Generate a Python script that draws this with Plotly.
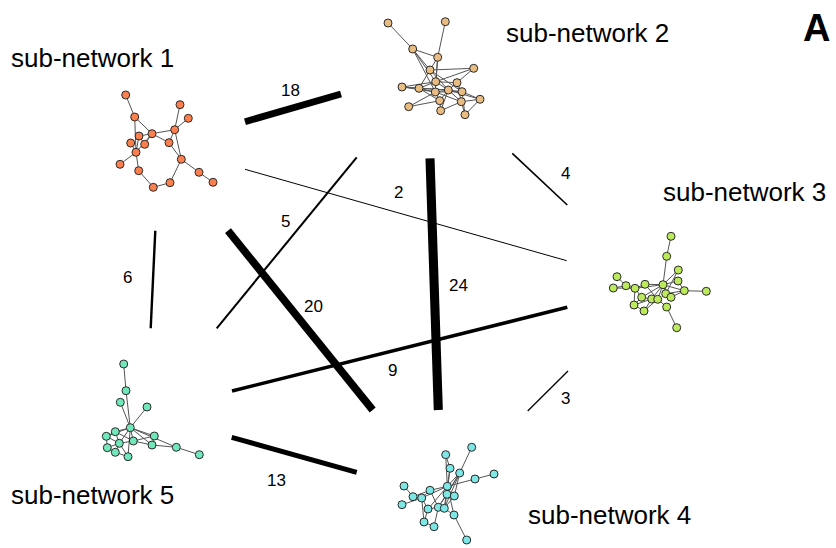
import plotly.graph_objects as go

W, H = 836, 548

# ---- sub-network node layouts (canvas coordinates) ----
sub1_x = [125.7, 180.0, 188.3, 134.7, 152.0, 174.7, 139.0, 130.7, 144.7, 169.0, 136.0, 181.3, 120.0, 138.7, 199.0, 213.0, 170.0, 153.3]
sub1_y = [95.0, 104.7, 118.3, 117.0, 133.7, 129.7, 136.0, 143.0, 144.3, 142.7, 152.3, 159.3, 164.3, 170.7, 172.3, 182.3, 182.7, 187.3]
sub1_edges = [(0, 3), (3, 4), (3, 10), (4, 5), (5, 1), (5, 2), (5, 9), (5, 11), (4, 9), (9, 11),
              (4, 6), (4, 8), (4, 10), (6, 10), (7, 10), (10, 12), (10, 13), (13, 17), (17, 16),
              (16, 11), (11, 14), (14, 15), (8, 6)]

sub2_x = [388.0, 445.3, 412.7, 437.7, 430.0, 473.7, 435.7, 457.0, 402.0, 419.0, 435.3, 448.3, 462.0, 439.7, 461.3, 480.0, 408.7, 440.7, 465.0]
sub2_y = [23.0, 21.7, 49.0, 57.3, 70.0, 68.3, 81.7, 82.7, 87.0, 88.3, 92.0, 90.0, 91.7, 100.7, 101.7, 99.3, 106.7, 110.7, 114.7]
sub2_edges = [(0, 2), (1, 3), (2, 3), (2, 4), (2, 6), (2, 10), (3, 4), (3, 10), (3, 6), (4, 5),
              (4, 9), (4, 11), (5, 7), (5, 6), (6, 7), (6, 8), (6, 9), (6, 10), (6, 11), (7, 12),
              (7, 14), (7, 11), (8, 9), (8, 10), (8, 11), (9, 10), (9, 11), (9, 13), (10, 11),
              (10, 12), (10, 13), (10, 14), (11, 12), (11, 13), (11, 14), (11, 15), (12, 15),
              (12, 18), (13, 17), (13, 16), (14, 15), (14, 18), (15, 18), (16, 10), (17, 14),
              (17, 11), (4, 12)]

sub3_x = [671.0, 666.7, 678.3, 617.0, 678.0, 626.0, 645.0, 663.0, 613.3, 635.0, 684.3, 706.3, 665.7, 641.7, 651.7, 657.7, 671.0, 634.0, 644.0, 666.7, 676.7]
sub3_y = [236.3, 256.3, 270.0, 276.7, 281.0, 285.7, 284.3, 284.7, 288.0, 288.3, 290.7, 291.3, 293.7, 297.3, 299.0, 299.3, 297.3, 305.0, 311.0, 307.0, 327.7]
sub3_edges = [(0, 1), (1, 7), (2, 7), (4, 7), (7, 10), (10, 11), (4, 10), (2, 12), (3, 5), (5, 9),
              (8, 5), (8, 9), (9, 6), (6, 7), (9, 13), (9, 17), (13, 14), (14, 15), (15, 7),
              (13, 7), (12, 16), (7, 12), (7, 16), (16, 10), (7, 14), (17, 18), (17, 14),
              (18, 14), (18, 15), (15, 19), (19, 20), (12, 10), (9, 7), (13, 17), (6, 15)]

sub4_x = [471.7, 445.7, 450.0, 459.7, 494.0, 475.0, 404.0, 447.3, 430.0, 413.0, 421.7, 447.0, 454.3, 402.0, 428.0, 438.3, 444.3, 454.0, 424.0, 434.0, 466.7]
sub4_y = [447.3, 454.7, 468.3, 473.0, 474.0, 479.0, 486.0, 486.3, 490.3, 496.7, 498.0, 494.3, 496.0, 504.7, 509.0, 507.3, 508.3, 515.0, 522.0, 526.7, 540.0]
sub4_edges = [(0, 3), (1, 2), (1, 7), (2, 7), (2, 11), (3, 7), (3, 11), (3, 12), (3, 15), (5, 7),
              (4, 5), (6, 9), (9, 10), (10, 7), (8, 7), (8, 10), (10, 14), (13, 10), (9, 8),
              (7, 11), (11, 12), (11, 16), (11, 15), (7, 16), (7, 17), (12, 16), (14, 15),
              (15, 16), (14, 18), (18, 19), (19, 15), (16, 17), (17, 20), (8, 15), (7, 14),
              (10, 18), (3, 16)]

sub5_x = [123.7, 126.0, 120.3, 147.0, 130.3, 115.3, 106.3, 154.3, 133.3, 119.3, 152.0, 107.3, 176.3, 115.3, 128.0, 199.3]
sub5_y = [364.0, 390.7, 402.3, 407.0, 427.7, 431.7, 436.3, 436.0, 441.0, 443.3, 445.0, 447.7, 447.3, 452.3, 456.7, 454.7]
sub5_edges = [(0, 1), (1, 4), (2, 4), (3, 4), (4, 5), (4, 6), (4, 7), (4, 8), (4, 9), (4, 10),
              (4, 12), (4, 14), (5, 6), (5, 9), (6, 11), (6, 9), (8, 9), (8, 7), (8, 10), (9, 11),
              (9, 13), (11, 13), (13, 14), (9, 14), (7, 10), (10, 12), (12, 15), (5, 8)]

sub_colors = ["#FA8050", "#E8BC82", "#BDEA5C", "#7FE6E6", "#72E8BA"]

# ---- links between sub-networks: edge counts and segment ends ----
link_counts = [18, 2, 4, 5, 24, 20, 6, 9, 3, 13]
link_x0 = [245.0, 245.0, 512.3, 216.7, 430.0, 228.0, 155.3, 232.0, 527.7, 231.7]
link_y0 = [121.7, 169.3, 153.3, 328.3, 158.3, 230.7, 230.7, 391.0, 411.0, 437.3]
link_x1 = [341.0, 566.7, 567.3, 356.7, 438.3, 372.7, 150.7, 567.3, 568.0, 356.7]
link_y1 = [94.0, 260.7, 205.0, 157.3, 410.0, 410.0, 328.3, 307.3, 371.0, 472.3]
label_x = [290.0, 398.0, 565.0, 285.0, 458.3, 313.3, 127.7, 392.7, 565.0, 276.7]
label_y = [90.0, 192.0, 173.3, 221.7, 285.0, 306.7, 277.7, 370.0, 398.3, 480.0]

# ---- sub-network captions ----
caption_text = ["sub-network 1", "sub-network 2", "sub-network 3", "sub-network 4", "sub-network 5"]
caption_x = [9, 504, 661, 526, 9]
caption_y = [58, 33, 192, 515, 495]

FONT = "Liberation Sans, Arial, Helvetica, sans-serif"

fig = go.Figure()

# thick links, width scaled by edge count
for c, x0, y0, x1, y1 in zip(link_counts, link_x0, link_y0, link_x1, link_y1):
    fig.add_trace(go.Scatter(
        x=[x0, x1], y=[y0, y1], mode="lines",
        line=dict(color="black", width=max(1.0, 0.37 * c + 0.2)),
        hoverinfo="skip", showlegend=False))

subs = [
    (sub1_x, sub1_y, sub1_edges),
    (sub2_x, sub2_y, sub2_edges),
    (sub3_x, sub3_y, sub3_edges),
    (sub4_x, sub4_y, sub4_edges),
    (sub5_x, sub5_y, sub5_edges),
]

for (xs, ys, edges), color in zip(subs, sub_colors):
    ex, ey = [], []
    for a, b in edges:
        ex += [xs[a], xs[b], None]
        ey += [ys[a], ys[b], None]
    fig.add_trace(go.Scatter(
        x=ex, y=ey, mode="lines",
        line=dict(color="#555555", width=1),
        hoverinfo="skip", showlegend=False))
    fig.add_trace(go.Scatter(
        x=xs, y=ys, mode="markers",
        marker=dict(size=8, color=color, line=dict(color="#2a2a2a", width=1)),
        hoverinfo="skip", showlegend=False))

for c, lx, ly in zip(link_counts, label_x, label_y):
    fig.add_annotation(x=lx, y=ly, text=str(c), showarrow=False,
                       font=dict(family=FONT, size=17, color="black"),
                       xanchor="center", yanchor="middle")

for t, cx, cy in zip(caption_text, caption_x, caption_y):
    fig.add_annotation(x=cx, y=cy, text=t, showarrow=False,
                       font=dict(family=FONT, size=26, color="black"),
                       xanchor="left", yanchor="middle")

fig.add_annotation(x=816, y=28, text="<b>A</b>", showarrow=False,
                   font=dict(family=FONT, size=38, color="black"),
                   xanchor="center", yanchor="middle")

fig.update_layout(
    width=W, height=H,
    margin=dict(l=0, r=0, t=0, b=0),
    paper_bgcolor="white", plot_bgcolor="white",
    xaxis=dict(range=[0, W], visible=False, fixedrange=True),
    yaxis=dict(range=[H, 0], visible=False, fixedrange=True),
)

fig.write_html("out.html")
